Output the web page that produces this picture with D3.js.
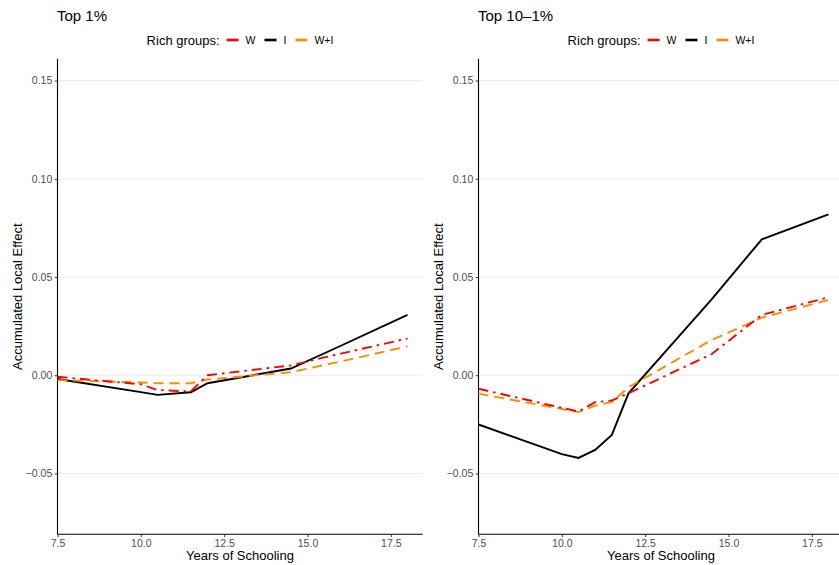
<!DOCTYPE html>
<html>
<head>
<meta charset="utf-8">
<script src="https://cdnjs.cloudflare.com/ajax/libs/d3/7.8.5/d3.min.js"></script>
<style>
  body { margin: 0; background: white; }
  svg { display: block; font-family: "Liberation Sans", Arial, sans-serif; }
</style>
</head>
<body>
<div id="chart"></div>
<script>
// datos
const groups = ["W", "I", "W+I"];
const groupColors = ["#ff0000", "#000000", "#ff8c00"];
const groupDash = ["10 5 2.5 5", null, "10 6"];
const yTicks = [-0.05, 0.00, 0.05, 0.10, 0.15];
const xTicks = [7.5, 10.0, 12.5, 15.0, 17.5];

// Top 1%
const xTop1 = [7.5, 10, 10.5, 11.5, 12, 14.5, 16, 18];
const top1_W  = [-0.0008, -0.0046, -0.0075, -0.0083, 0.0000, 0.0050, 0.0110, 0.0187];
const top1_I  = [-0.0019, -0.0086, -0.0100, -0.0087, -0.0041, 0.0034, 0.0150, 0.0307];
const top1_WI = [-0.0025, -0.0037, -0.0041, -0.0041, -0.0022, 0.0015, 0.0070, 0.0147];

// Top 10-1%
const xTop10 = [7.5, 10, 10.5, 11, 11.5, 12, 14.5, 16, 18];
const top10_W  = [-0.0069, -0.0166, -0.0185, -0.0137, -0.0129, -0.0092, 0.0108, 0.0307, 0.0397];
const top10_I  = [-0.0251, -0.0402, -0.0421, -0.0380, -0.0304, -0.0092, 0.0388, 0.0692, 0.0819];
const top10_WI = [-0.0094, -0.0172, -0.0188, -0.0155, -0.0136, -0.0061, 0.0180, 0.0293, 0.0383];

const W = 839, H = 565;
const svg = d3.select("#chart").append("svg").attr("width", W).attr("height", H);

function panel(left, title, xs, series) {
  // márgenes del panel
  const top = 59, bottom = 534.3, width = 365;

  const x = d3.scaleLinear().domain([7.5, 18.45]).range([0, width]);
  const y = d3.scaleLinear().domain([-0.081, 0.161]).range([bottom - top, 0]);

  const g = svg.append("g").attr("transform", `translate(${left},${top})`);

  // título
  svg.append("text")
    .attr("x", left - 0.5)
    .attr("y", 21)
    .style("font-size", "15px")
    .attr("fill", "#000")
    .text(title);

  // leyenda
  const legend = svg.append("g").attr("transform", `translate(0,40)`);
  const lt = legend.append("text")
    .attr("dy", "0.35em")
    .style("font-size", "13px")
    .text("Rich groups:");
  let pos = lt.node().getComputedTextLength() + 7;
  groups.forEach((name, i) => {
    legend.append("line")
      .attr("x1", pos).attr("x2", pos + 12)
      .attr("stroke", groupColors[i])
      .attr("stroke-width", 2.6);
    pos += 19;
    const t = legend.append("text")
      .attr("x", pos)
      .attr("dy", "0.35em")
      .style("font-size", "10.5px")
      .text(name);
    pos += t.node().getComputedTextLength() + 9;
  });
  pos -= 9;
  legend.attr("transform", `translate(${left + width / 2 - pos / 2},40)`);

  // líneas de cuadrícula
  g.append("g").selectAll("line").data(yTicks).enter().append("line")
    .attr("x1", 0).attr("x2", width)
    .attr("y1", d => y(d)).attr("y2", d => y(d))
    .attr("stroke", "#ebebeb")
    .attr("stroke-width", 1);

  // ejes
  const xAxis = d3.axisBottom(x).tickValues(xTicks).tickFormat(d3.format(".1f"))
    .tickSize(2.75).tickPadding(2);
  const xAxisG = g.append("g").attr("transform", `translate(0,${bottom - top})`).call(xAxis);

  const yAxis = d3.axisLeft(y).tickValues(yTicks)
    .tickFormat(d => d3.format(".2f")(d).replace("-", "\u2212"))
    .tickSize(2.75).tickPadding(2.5);
  const yAxisG = g.append("g").call(yAxis);

  [xAxisG, yAxisG].forEach(a => {
    a.select(".domain").attr("stroke", "#000").attr("stroke-width", 1.1);
    a.selectAll(".tick line").attr("stroke", "#333");
    a.selectAll(".tick text")
      .attr("fill", "#4d4d4d")
      .style("font-size", "10.5px")
      .style("font-family", "'Liberation Sans', Arial, sans-serif");
  });
  yAxisG.select(".domain").attr("d", `M0,${bottom - top}V0`);
  xAxisG.select(".domain").attr("d", `M0,0H${width}`);

  // títulos de ejes
  g.append("text")
    .attr("x", width / 2)
    .attr("y", bottom - top + 21.5)
    .attr("dy", "0.35em")
    .attr("text-anchor", "middle")
    .style("font-size", "13px")
    .text("Years of Schooling");

  g.append("text")
    .attr("transform", "rotate(-90)")
    .attr("x", -(bottom - top) / 2)
    .attr("y", -40.5)
    .attr("dy", "0.35em")
    .attr("text-anchor", "middle")
    .style("font-size", "13px")
    .text("Accumulated Local Effect");

  // líneas de datos
  const line = d3.line()
    .x((d, i) => x(xs[i]))
    .y(d => y(d));

  const order = [1, 2, 0];
  order.forEach(i => {
    g.append("path")
      .datum(series[i])
      .attr("fill", "none")
      .attr("stroke", groupColors[i])
      .attr("stroke-width", 1.9)
      .attr("stroke-dasharray", groupDash[i])
      .attr("d", line);
  });
}

panel(57.5, "Top 1%", xTop1, [top1_W, top1_I, top1_WI]);
panel(478.5, "Top 10\u20131%", xTop10, [top10_W, top10_I, top10_WI]);
</script>
</body>
</html>
